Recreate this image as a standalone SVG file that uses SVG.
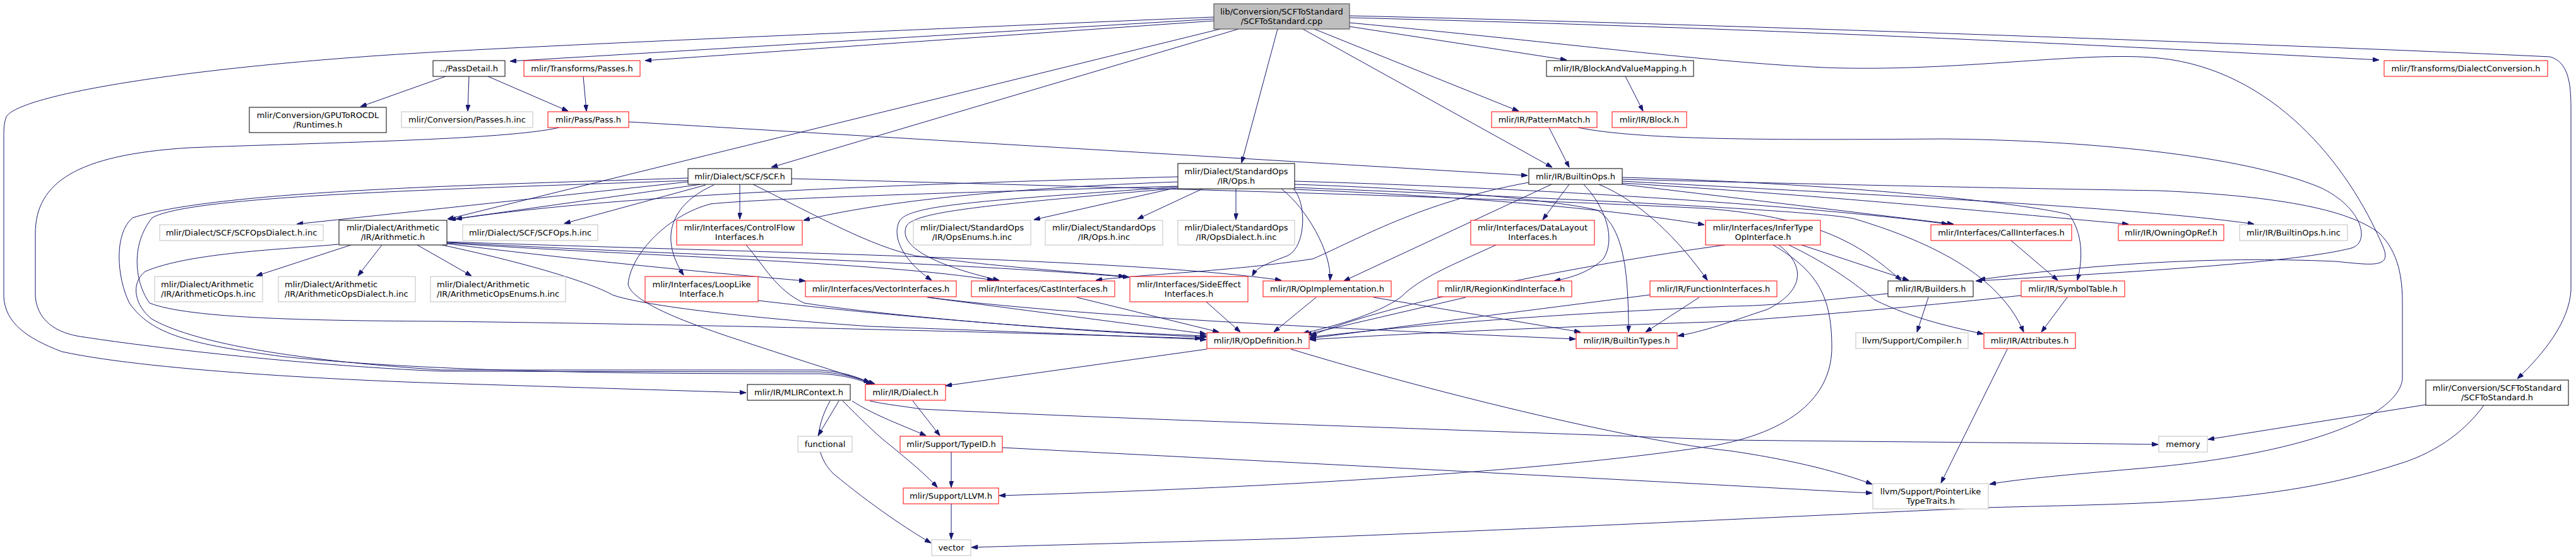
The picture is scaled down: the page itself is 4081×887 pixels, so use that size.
<svg xmlns="http://www.w3.org/2000/svg" width="4081" height="887" viewBox="0 0 4081 887">
<style>
rect{stroke-width:1}
.b{fill:#fff;stroke:#000}
.r{fill:#fff;stroke:#ff0000}
.g{fill:#fff;stroke:#bfbfbf}
.root{fill:#bfbfbf;stroke:#404040}
text{font-family:"DejaVu Sans","Liberation Sans",sans-serif;font-size:13px;fill:#000;text-anchor:middle}
text.l{text-anchor:start}
#edges path{fill:none;stroke:#191970;stroke-width:1;marker-end:url(#ah)}
</style>
<defs>
<marker id="ah" viewBox="0 0 10 7" refX="10" refY="3.5" markerWidth="10" markerHeight="7" markerUnits="userSpaceOnUse" orient="auto"><path d="M0,0 L10,3.5 L0,7 z" fill="#191970" stroke="#191970"/></marker>
</defs>
<rect width="4081" height="887" fill="#fff"/>
<g id="edges">
<path d="M1923,30 L808,97"/>
<path d="M1923,33 L1022,96"/>
<path d="M1923,27 C1500,45 900,70 680,83 C300,105 30,150 10,185 C6,195 6,205 6,220 L6,470 C8,510 40,535 98,557 C250,590 600,604 700,607 L1182,622"/>
<path d="M1933,46 L709,347"/>
<path d="M1962,46 L1222,265"/>
<path d="M2024,46 L1967,258"/>
<path d="M2064,46 L2459,265"/>
<path d="M2082,46 L2406,176"/>
<path d="M2138,42 L2482,95"/>
<path d="M2138,36 C2500,70 2700,98 2890,107 C3100,115 3300,80 3420,92 C3600,110 3720,260 3775,390 C3790,425 3760,420 3700,414 C3500,405 3300,420 3135,443"/>
<path d="M2138,28 C2800,45 3300,70 3769,95"/>
<path d="M2138,25 C2800,40 3800,78 4040,90 C4068,98 4073,130 4073,170 L4073,460 C4070,510 4030,560 3988,600"/>
<path d="M706,121 L571,169"/>
<path d="M743,121 L741,176"/>
<path d="M773,121 L900,176"/>
<path d="M924,121 L929,176"/>
<path d="M996,193 L2420,278"/>
<path d="M886,202 C800,222 500,226 300,234 C120,245 56,290 56,370 L56,470 C60,515 100,530 134,534 C250,552 500,580 700,588 L1300,589 C1340,592 1360,600 1379,606"/>
<path d="M2575,121 L2603,176"/>
<path d="M2454,202 L2486,265"/>
<path d="M2500,202 C2600,222 2800,222 3077,220 C3300,222 3550,245 3676,297 C3745,330 3755,385 3725,393 C3640,415 3400,430 3130,445"/>
<path d="M1110,292 L712,348"/>
<path d="M1118,293 L894,354"/>
<path d="M1090,288 L470,355"/>
<path d="M1172,292 L1172,347"/>
<path d="M1131,293 C1070,320 1040,370 1083,436"/>
<path d="M1090,282 C800,292 350,300 210,345 C180,370 185,440 205,480 C240,530 300,545 450,565 C700,590 1000,592 1300,592 C1340,594 1362,602 1382,609"/>
<path d="M1090,286 C700,300 300,310 241,345 C205,390 215,450 237,480 C300,505 500,508 700,509 C1200,515 1700,530 1903,536"/>
<path d="M1193,292 C1300,345 1380,390 1450,405 C1600,425 1700,430 1782,438"/>
<path d="M1254,283 C1700,295 2300,310 2700,330 C2900,345 2960,400 3012,444"/>
<path d="M1856,299 L1638,348"/>
<path d="M1905,299 L1802,347"/>
<path d="M1958,299 L1958,348"/>
<path d="M1866,280 C1500,290 1000,305 722,347"/>
<path d="M1866,288 C1600,298 1400,318 1273,349"/>
<path d="M1866,295 C1500,305 1200,315 1126,323 C1060,340 1000,400 995,450 C1000,480 1100,515 1160,535 C1250,565 1330,590 1386,608"/>
<path d="M1866,296 C1550,318 1440,325 1425,350 C1410,380 1440,420 1476,444"/>
<path d="M1866,298 C1560,325 1450,335 1436,358 C1420,395 1500,425 1583,444"/>
<path d="M2049,299 C2070,320 2070,390 2040,405 C2000,420 1990,425 1984,437"/>
<path d="M2030,299 C2070,330 2110,400 2107,444"/>
<path d="M2051,300 C2300,310 2550,330 2700,356"/>
<path d="M2051,287 C2500,300 2900,330 3086,355"/>
<path d="M2051,292 C2300,300 2480,320 2531,333 C2570,360 2580,420 2580,526"/>
<path d="M2051,297 C2500,315 2900,335 2939,347 C3050,380 3120,420 3160,460 C3180,480 3195,500 3206,526"/>
<path d="M2458,292 L2129,445"/>
<path d="M2486,292 L2444,348"/>
<path d="M2509,292 C2545,330 2560,380 2540,410 C2520,430 2490,440 2462,445"/>
<path d="M2533,292 C2600,320 2660,380 2705,444"/>
<path d="M2422,289 C2250,320 2150,380 2080,410 C1950,430 1800,435 1736,444"/>
<path d="M2570,281 C2900,290 3200,320 3278,340 C3300,370 3300,410 3291,444"/>
<path d="M2570,284 C3000,295 3300,300 3420,302 C3600,310 3720,330 3770,370 C3800,400 3806,440 3806,480 L3806,600 C3800,660 3650,720 3390,742 C3300,750 3200,758 3152,767"/>
<path d="M2570,287 C3000,310 3400,330 3571,355"/>
<path d="M2570,290 C2900,310 3200,340 3372,355"/>
<path d="M2570,292 L3095,355"/>
<path d="M2733,388 C2500,420 2200,480 2076,532"/>
<path d="M2809,388 C2880,430 2902,470 2902,550 C2902,620 2850,680 2720,705 C2500,740 2100,770 1583,785"/>
<path d="M2818,388 C2860,420 2860,460 2800,490 C2740,510 2700,525 2658,532"/>
<path d="M2834,388 C2900,420 2940,450 2970,475 C3030,505 3100,520 3142,529"/>
<path d="M2854,388 L3024,444"/>
<path d="M2370,388 C2300,420 2250,440 2220,470 C2180,500 2100,520 2064,528"/>
<path d="M2322,471 L2068,530"/>
<path d="M2614,467 L2075,536"/>
<path d="M2692,471 L2607,526"/>
<path d="M2085,471 L2018,526"/>
<path d="M2176,471 L2504,526"/>
<path d="M1911,478 L1965,526"/>
<path d="M1706,471 L1931,526"/>
<path d="M1469,471 L1911,529"/>
<path d="M1471,471 C1700,500 2100,520 2496,537"/>
<path d="M1201,476 C1400,500 1700,525 1911,532"/>
<path d="M1182,388 C1210,420 1230,460 1274,480 C1400,500 1700,525 1911,534"/>
<path d="M700,388 C850,420 940,450 970,467 C1020,485 1200,505 1380,517 C1600,525 1800,533 1911,538"/>
<path d="M708,386 C900,410 1100,430 1276,445"/>
<path d="M708,385 C1000,405 1400,415 1574,444"/>
<path d="M708,384 C1100,405 1500,415 1789,439"/>
<path d="M708,383 C1200,400 1800,410 2030,444"/>
<path d="M536,387 C450,395 300,400 230,430 C205,450 215,485 240,505 C300,540 450,570 700,586 L1300,586 C1340,590 1360,598 1378,606"/>
<path d="M556,388 L406,437"/>
<path d="M605,388 L567,437"/>
<path d="M661,388 L747,437"/>
<path d="M3186,381 L3260,444"/>
<path d="M3275,471 L3234,526"/>
<path d="M3202,468 C3000,490 2800,505 2740,509 C2400,520 2200,530 2075,538"/>
<path d="M3055,471 L3037,526"/>
<path d="M2991,465 C2900,475 2800,485 2740,485 C2400,500 2200,520 2075,534"/>
<path d="M3180,553 L3075,765"/>
<path d="M1912,553 L1498,611"/>
<path d="M2045,553 C2300,630 2600,700 2740,714 C2850,730 2920,750 2966,767"/>
<path d="M1329,635 L1296,690"/>
<path d="M1315,635 C1290,680 1290,720 1320,750 C1380,800 1440,840 1475,860"/>
<path d="M1335,635 C1360,660 1390,690 1410,705 C1440,730 1465,750 1485,772"/>
<path d="M1350,635 C1380,655 1420,670 1467,690"/>
<path d="M1378,635 C1400,640 1420,642 1460,648 C1800,665 2300,680 2740,697 C3000,700 3300,702 3419,704"/>
<path d="M1446,635 L1489,690"/>
<path d="M1507,716 L1507,772"/>
<path d="M1507,798 L1507,854"/>
<path d="M1588,709 C1800,720 2200,740 2740,769 C2850,775 2920,779 2966,781"/>
<path d="M3843,641 L3498,696"/>
<path d="M3935,642 C3900,690 3850,720 3800,735 C3600,800 3390,797 3148,804 C2900,815 2500,835 2040,853 C1800,860 1600,865 1539,867"/>
</g>
<g id="n_root"><rect class="root" x="1923" y="6" width="215" height="40"/><text x="2030.5" y="22.5">lib/Conversion/SCFToStandard</text><text x="2030.5" y="37.5">/SCFToStandard.cpp</text></g>
<g id="n_passdetail"><rect class="b" x="686" y="96" width="114" height="25"/><text x="743" y="113">../PassDetail.h</text></g>
<g id="n_transpasses"><rect class="r" x="830" y="96" width="184" height="25"/><text x="922" y="113">mlir/Transforms/Passes.h</text></g>
<g id="n_bavm"><rect class="b" x="2450" y="96" width="233" height="25"/><text x="2566.5" y="113">mlir/IR/BlockAndValueMapping.h</text></g>
<g id="n_dialectconv"><rect class="r" x="3777" y="96" width="259" height="25"/><text x="3906.5" y="113">mlir/Transforms/DialectConversion.h</text></g>
<g id="n_gpuruntimes"><rect class="b" x="395" y="170" width="217" height="40"/><text x="503.5" y="186.5">mlir/Conversion/GPUToROCDL</text><text x="503.5" y="201.5">/Runtimes.h</text></g>
<g id="n_convpassesinc"><rect class="g" x="636" y="177" width="208" height="25"/><text x="740" y="194">mlir/Conversion/Passes.h.inc</text></g>
<g id="n_pass"><rect class="r" x="868" y="177" width="128" height="25"/><text x="932" y="194">mlir/Pass/Pass.h</text></g>
<g id="n_patternmatch"><rect class="r" x="2363" y="177" width="167" height="25"/><text x="2446.5" y="194">mlir/IR/PatternMatch.h</text></g>
<g id="n_block"><rect class="r" x="2554" y="177" width="118" height="25"/><text x="2613" y="194">mlir/IR/Block.h</text></g>
<g id="n_scf"><rect class="b" x="1090" y="267" width="164" height="25"/><text x="1172" y="284">mlir/Dialect/SCF/SCF.h</text></g>
<g id="n_stdops"><rect class="b" x="1866" y="259" width="185" height="40"/><text x="1958.5" y="275.5">mlir/Dialect/StandardOps</text><text x="1958.5" y="290.5">/IR/Ops.h</text></g>
<g id="n_builtinops"><rect class="b" x="2422" y="267" width="148" height="25"/><text x="2496" y="284">mlir/IR/BuiltinOps.h</text></g>
<g id="n_scftostdh"><rect class="b" x="3843" y="602" width="226" height="40"/><text x="3956" y="618.5">mlir/Conversion/SCFToStandard</text><text x="3956" y="633.5">/SCFToStandard.h</text></g>
<g id="n_scfopsdialectinc"><rect class="g" x="253" y="356" width="259" height="25"/><text x="382.5" y="373">mlir/Dialect/SCF/SCFOpsDialect.h.inc</text></g>
<g id="n_arith"><rect class="b" x="537" y="349" width="171" height="39"/><text x="622.5" y="365">mlir/Dialect/Arithmetic</text><text x="622.5" y="380">/IR/Arithmetic.h</text></g>
<g id="n_scfopsinc"><rect class="g" x="733" y="356" width="214" height="25"/><text x="840" y="373">mlir/Dialect/SCF/SCFOps.h.inc</text></g>
<g id="n_cfi"><rect class="r" x="1072" y="349" width="199" height="39"/><text x="1171.5" y="365">mlir/Interfaces/ControlFlow</text><text x="1171.5" y="380">Interfaces.h</text></g>
<g id="n_opsenumsinc"><rect class="g" x="1447" y="349" width="186" height="39"/><text x="1540" y="365">mlir/Dialect/StandardOps</text><text x="1540" y="380">/IR/OpsEnums.h.inc</text></g>
<g id="n_opsinc"><rect class="g" x="1656" y="349" width="186" height="39"/><text x="1749" y="365">mlir/Dialect/StandardOps</text><text x="1749" y="380">/IR/Ops.h.inc</text></g>
<g id="n_opsdialectinc"><rect class="g" x="1866" y="349" width="185" height="39"/><text x="1958.5" y="365">mlir/Dialect/StandardOps</text><text x="1958.5" y="380">/IR/OpsDialect.h.inc</text></g>
<g id="n_datalayout"><rect class="r" x="2330" y="349" width="196" height="39"/><text x="2428" y="365">mlir/Interfaces/DataLayout</text><text x="2428" y="380">Interfaces.h</text></g>
<g id="n_infertype"><rect class="r" x="2702" y="349" width="182" height="39"/><text x="2793" y="365">mlir/Interfaces/InferType</text><text x="2793" y="380">OpInterface.h</text></g>
<g id="n_callif"><rect class="r" x="3059" y="356" width="223" height="25"/><text x="3170.5" y="373">mlir/Interfaces/CallInterfaces.h</text></g>
<g id="n_owningopref"><rect class="r" x="3356" y="356" width="167" height="25"/><text x="3439.5" y="373">mlir/IR/OwningOpRef.h</text></g>
<g id="n_builtinopsinc"><rect class="g" x="3548" y="356" width="171" height="25"/><text x="3633.5" y="373">mlir/IR/BuiltinOps.h.inc</text></g>
<g id="n_arithopsinc"><rect class="g" x="245" y="438" width="171" height="40"/><text class="l" x="255" y="454.5">mlir/Dialect/Arithmetic</text><text class="l" x="255" y="469.5">/IR/ArithmeticOps.h.inc</text></g>
<g id="n_arithdialectinc"><rect class="g" x="441" y="438" width="217" height="40"/><text class="l" x="451" y="454.5">mlir/Dialect/Arithmetic</text><text class="l" x="451" y="469.5">/IR/ArithmeticOpsDialect.h.inc</text></g>
<g id="n_arithenumsinc"><rect class="g" x="682" y="438" width="214" height="40"/><text class="l" x="692" y="454.5">mlir/Dialect/Arithmetic</text><text class="l" x="692" y="469.5">/IR/ArithmeticOpsEnums.h.inc</text></g>
<g id="n_looplike"><rect class="r" x="1022" y="438" width="179" height="40"/><text x="1111.5" y="454.5">mlir/Interfaces/LoopLike</text><text x="1111.5" y="469.5">Interface.h</text></g>
<g id="n_vectorif"><rect class="r" x="1276" y="445" width="239" height="25"/><text x="1395.5" y="462">mlir/Interfaces/VectorInterfaces.h</text></g>
<g id="n_castif"><rect class="r" x="1539" y="445" width="227" height="25"/><text x="1652.5" y="462">mlir/Interfaces/CastInterfaces.h</text></g>
<g id="n_sideeffect"><rect class="r" x="1790" y="438" width="187" height="40"/><text x="1883.5" y="454.5">mlir/Interfaces/SideEffect</text><text x="1883.5" y="469.5">Interfaces.h</text></g>
<g id="n_opimpl"><rect class="r" x="2001" y="445" width="203" height="25"/><text x="2102.5" y="462">mlir/IR/OpImplementation.h</text></g>
<g id="n_regionkind"><rect class="r" x="2278" y="445" width="212" height="25"/><text x="2384" y="462">mlir/IR/RegionKindInterface.h</text></g>
<g id="n_funcif"><rect class="r" x="2614" y="445" width="201" height="25"/><text x="2714.5" y="462">mlir/IR/FunctionInterfaces.h</text></g>
<g id="n_builders"><rect class="b" x="2991" y="445" width="135" height="25"/><text x="3058.5" y="462">mlir/IR/Builders.h</text></g>
<g id="n_symboltable"><rect class="r" x="3202" y="445" width="164" height="25"/><text x="3284" y="462">mlir/IR/SymbolTable.h</text></g>
<g id="n_opdef"><rect class="r" x="1912" y="527" width="162" height="25"/><text x="1993" y="544">mlir/IR/OpDefinition.h</text></g>
<g id="n_builtintypes"><rect class="r" x="2497" y="527" width="160" height="25"/><text x="2577" y="544">mlir/IR/BuiltinTypes.h</text></g>
<g id="n_compiler"><rect class="g" x="2940" y="527" width="178" height="25"/><text x="3029" y="544">llvm/Support/Compiler.h</text></g>
<g id="n_attributes"><rect class="r" x="3143" y="527" width="145" height="25"/><text x="3215.5" y="544">mlir/IR/Attributes.h</text></g>
<g id="n_mlircontext"><rect class="b" x="1184" y="609" width="163" height="25"/><text x="1265.5" y="626">mlir/IR/MLIRContext.h</text></g>
<g id="n_dialect"><rect class="r" x="1371" y="609" width="127" height="25"/><text x="1434.5" y="626">mlir/IR/Dialect.h</text></g>
<g id="n_functional"><rect class="g" x="1264" y="691" width="86" height="25"/><text x="1307" y="708">functional</text></g>
<g id="n_typeid"><rect class="r" x="1426" y="691" width="162" height="25"/><text x="1507" y="708">mlir/Support/TypeID.h</text></g>
<g id="n_memory"><rect class="g" x="3420" y="691" width="77" height="25"/><text x="3458.5" y="708">memory</text></g>
<g id="n_llvm"><rect class="r" x="1431" y="773" width="151" height="25"/><text x="1506.5" y="790">mlir/Support/LLVM.h</text></g>
<g id="n_pointerlike"><rect class="g" x="2967" y="766" width="183" height="40"/><text x="3058.5" y="782.5">llvm/Support/PointerLike</text><text x="3058.5" y="797.5">TypeTraits.h</text></g>
<g id="n_vector"><rect class="g" x="1476" y="855" width="62" height="25"/><text x="1507" y="872">vector</text></g>
</svg>
